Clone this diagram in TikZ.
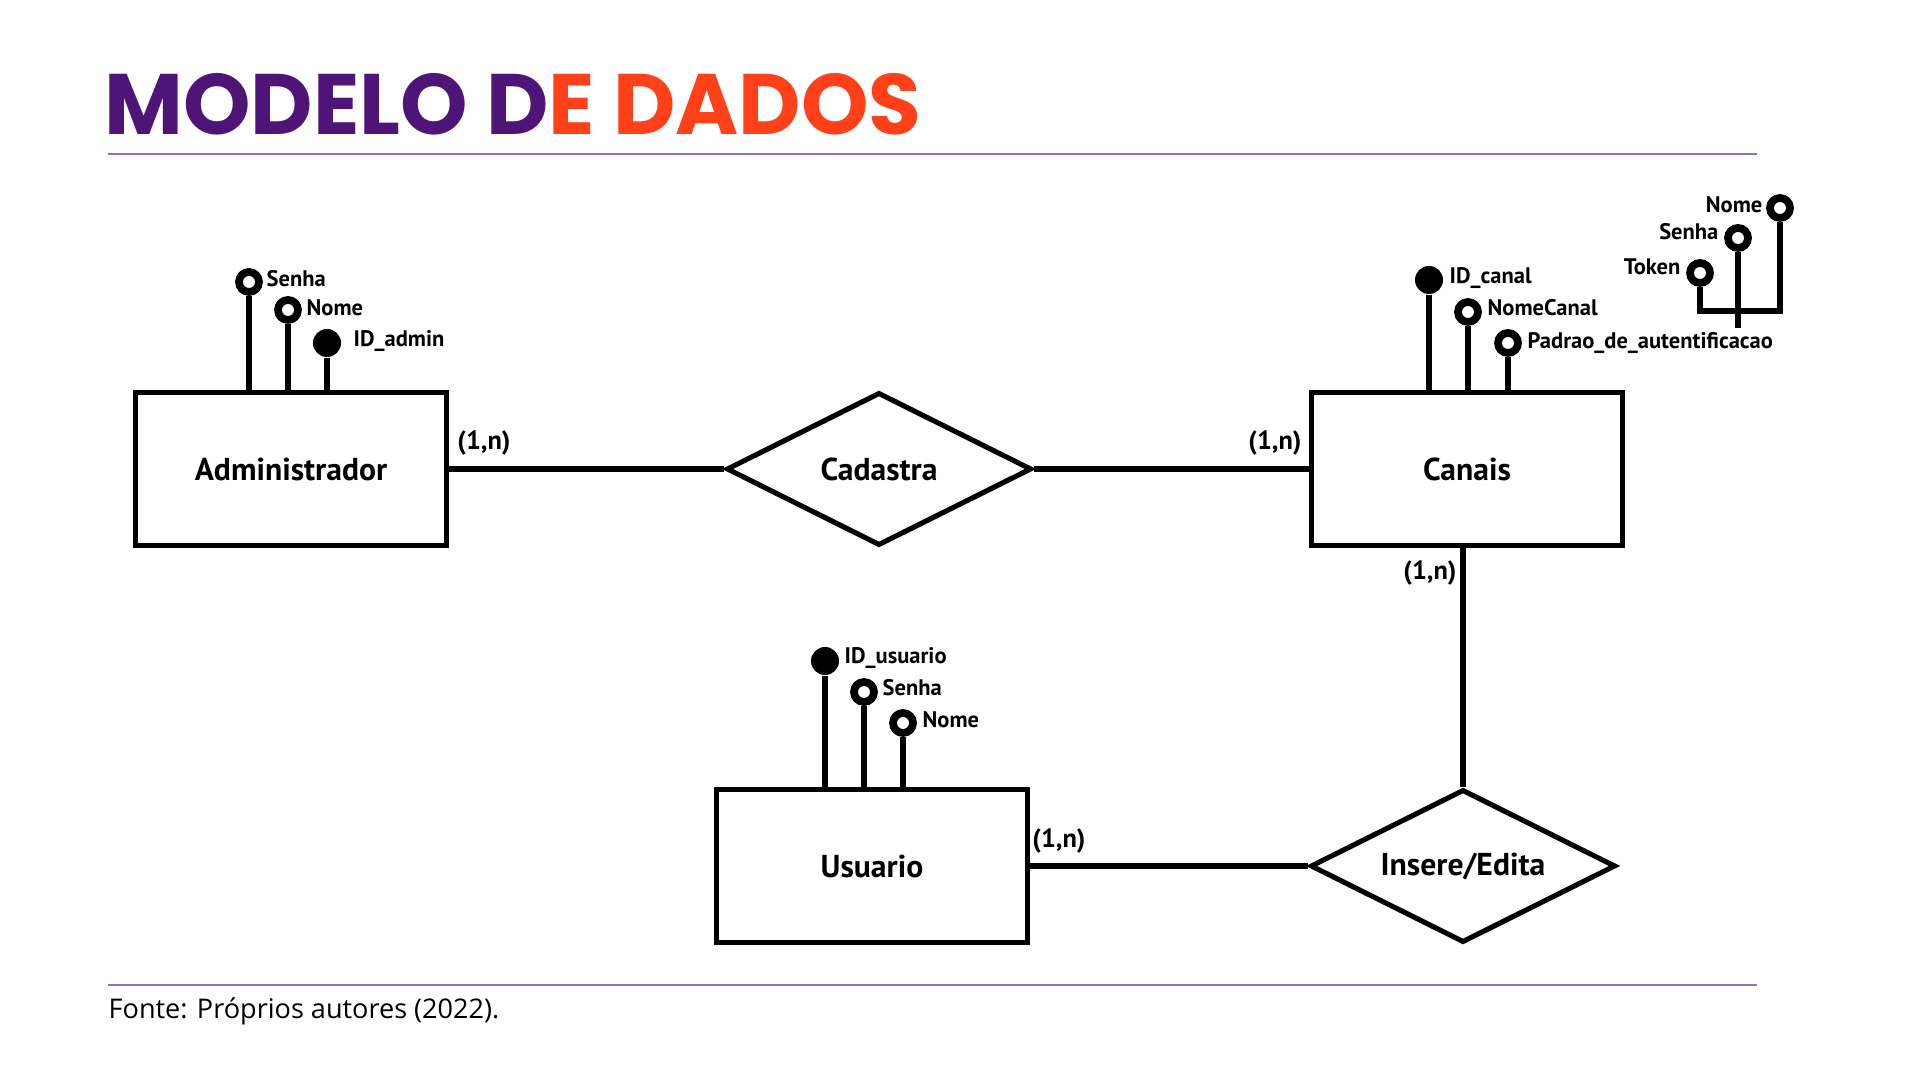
\documentclass[tikz,border=0pt]{standalone}
\usepackage{fontspec}
\usepackage{xcolor}
\usetikzlibrary{shapes.geometric}
\setmainfont{PT Sans}
\newfontfamily\titlefont{Poppins}
\newfontfamily\footfont{Open Sans}
\definecolor{TitlePurple}{RGB}{78,20,120}
\definecolor{TitleOrange}{RGB}{255,64,25}
\definecolor{RuleLilac}{RGB}{150,110,190}

\begin{document}
\begin{tikzpicture}[x=0.01cm,y=-0.01cm,
    entity/.style={draw,line width=1.45pt,minimum width=3.1cm,minimum height=1.53cm,
        inner sep=0pt,font=\fontsize{9}{11}\selectfont\bfseries},
    relation/.style={draw,diamond,aspect=2,line width=1.45pt,minimum width=3.05cm,
        minimum height=1.53cm,inner sep=0pt,font=\fontsize{9}{11}\selectfont\bfseries},
    attr/.style={circle,draw,line width=2.2pt,minimum size=0.2cm,inner sep=0pt},
    keyattr/.style={circle,fill=black,minimum size=0.28cm,inner sep=0pt},
    stem/.style={line width=1.6pt},
    link/.style={line width=1.45pt},
    attrname/.style={anchor=west,inner sep=0pt,font=\fontsize{6.4}{7.5}\selectfont\bfseries},
    card/.style={inner sep=0pt,font=\fontsize{7.5}{9}\selectfont\bfseries},
    rule/.style={RuleLilac,line width=0.6pt}]

    \fill[white] (0,0) rectangle (1920,1080);
    \useasboundingbox (0,0) rectangle (1920,1080);

    % title and rules
    \node[anchor=base west,inner sep=0pt,font=\titlefont\fontsize{24.4}{29}\selectfont\bfseries]
        (title) at (104,135)
        {\textcolor{TitlePurple}{MODELO D}\textcolor{TitleOrange}{E DADOS}};
    \draw[rule] (108,154) -- (1757,154);
    \draw[rule] (108,985) -- (1757,985);
    \node[anchor=base west,inner sep=0pt,font=\footfont\fontsize{7.7}{9}\selectfont]
        (fonte) at (108,1019) {Fonte: Próprios autores (2022).};

    % entities and relations
    \node[entity] (adm) at (291,469) {Administrador};
    \node[relation] (cad) at (879,469) {Cadastra};
    \node[entity] (can) at (1467,469) {Canais};
    \node[entity] (usu) at (872,866) {Usuario};
    \node[relation] (ins) at (1463,866) {Insere/Edita};

    \draw[link] (adm) -- (cad);
    \draw[link] (cad) -- (can);
    \draw[link] (usu) -- (ins);
    \draw[link] (ins) -- (ins |- can.south);

    \node[card] (cardAdm) at (484,443) {(1,n)};
    \node[card] (cardCan) at (1275,443) {(1,n)};
    \node[card] (cardUsu) at (1059,841) {(1,n)};
    \node[card] (cardIns) at (1430,573) {(1,n)};

    % Administrador
    \node[attr] (admSenha) at (249,282) {};
    \node[attr] (admNome) at (288,310) {};
    \node[keyattr] (admId) at (327,343) {};
    \draw[stem] (admSenha) -- (admSenha |- adm.north);
    \draw[stem] (admNome) -- (admNome |- adm.north);
    \draw[stem] (admId) -- (admId |- adm.north);
    \node[attrname] (admSenhaTxt) at (266,279) {Senha};
    \node[attrname] (admNomeTxt) at (306,308) {Nome};
    \node[attrname] (admIdTxt) at (353,341) {ID\_admin};

    % Canais
    \node[keyattr] (canId) at (1429,280) {};
    \node[attr] (canNome) at (1468,312) {};
    \node[attr] (canPadrao) at (1508,343) {};
    \draw[stem] (canId) -- (canId |- can.north);
    \draw[stem] (canNome) -- (canNome |- can.north);
    \draw[stem] (canPadrao) -- (canPadrao |- can.north);
    \node[attrname] (canIdTxt) at (1449,278) {ID\_canal};
    \node[attrname] (canNomeTxt) at (1487,308) {NomeCanal};
    \node[attrname] (canPadraoTxt) at (1527,343) {Padrao\_de\_autentificacao};

    % composto
    \node[attr] (cmpToken) at (1700,273) {};
    \node[attr] (cmpSenha) at (1738,238) {};
    \node[attr] (cmpNome) at (1780,208) {};
    \coordinate (cmpBar) at (1738,311);
    \coordinate (cmpEnd) at (1738,328);
    \draw[stem,line join=miter] (cmpToken) -- (cmpToken |- cmpBar)
        -- (cmpNome |- cmpBar) -- (cmpNome);
    \draw[stem] (cmpSenha) -- (cmpEnd);
    \node[attrname,anchor=east] (cmpTokenTxt) at (1681,267) {Token};
    \node[attrname,anchor=east] (cmpSenhaTxt) at (1719,232) {Senha};
    \node[attrname,anchor=east] (cmpNomeTxt) at (1763,205) {Nome};

    % Usuario
    \node[keyattr] (usuId) at (825,661) {};
    \node[attr] (usuSenha) at (864,692) {};
    \node[attr] (usuNome) at (903,723) {};
    \draw[stem] (usuId) -- (usuId |- usu.north);
    \draw[stem] (usuSenha) -- (usuSenha |- usu.north);
    \draw[stem] (usuNome) -- (usuNome |- usu.north);
    \node[attrname] (usuIdTxt) at (844,658) {ID\_usuario};
    \node[attrname] (usuSenhaTxt) at (882,688) {Senha};
    \node[attrname] (usuNomeTxt) at (922,720) {Nome};
\end{tikzpicture}
\end{document}
